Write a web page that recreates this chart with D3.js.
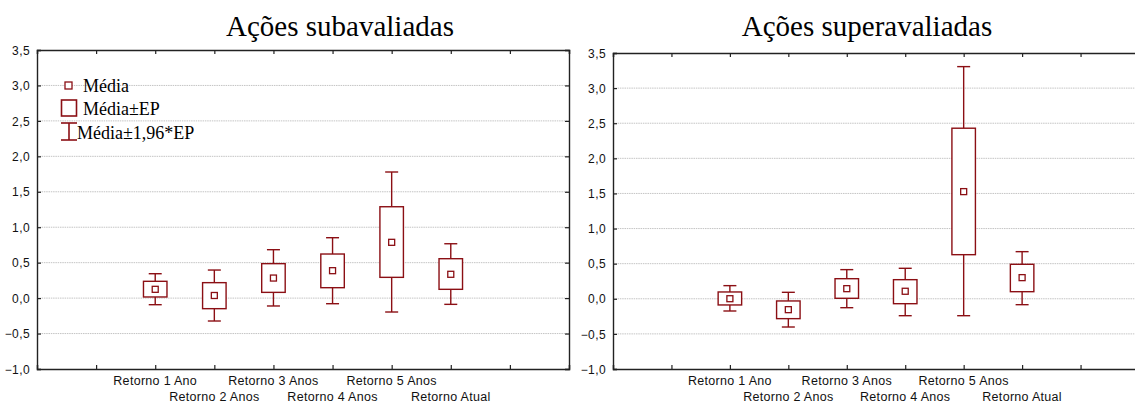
<!DOCTYPE html>
<html><head><meta charset="utf-8">
<script src="https://cdn.jsdelivr.net/npm/d3@7"></script>
<style>
html,body{margin:0;padding:0;background:#fff;overflow:hidden;}
svg{display:block;}
</style></head>
<body>
<svg id="c" width="1135" height="406"></svg>
<script>
// ---- data ----
const categories = ["Retorno 1 Ano","Retorno 2 Anos","Retorno 3 Anos","Retorno 4 Anos","Retorno 5 Anos","Retorno Atual"];
const yTicks = [-1.0,-0.5,0.0,0.5,1.0,1.5,2.0,2.5,3.0,3.5];
const titles = ["Ações subavaliadas","Ações superavaliadas"];
const legendLabels = ["Média","Média±EP","Média±1,96*EP"];

// Ações subavaliadas
const subMean    = [0.124, 0.037, 0.283, 0.387, 0.787, 0.336];
const subSeLo    = [0.016,-0.149, 0.081, 0.147, 0.293, 0.124];
const subSeHi    = [0.237, 0.218, 0.486, 0.622, 1.289, 0.556];
const subCiLo    = [-0.093,-0.323,-0.111,-0.079,-0.196,-0.088];
const subCiHi    = [0.344, 0.396, 0.683, 0.852, 1.779, 0.767];

// Ações superavaliadas
const supMean    = [0.001,-0.155, 0.144, 0.107, 1.526, 0.301];
const supSeLo    = [-0.088,-0.283, 0.007,-0.070, 0.628, 0.101];
const supSeHi    = [0.097,-0.031, 0.286, 0.272, 2.429, 0.491];
const supCiLo    = [-0.174,-0.402,-0.127,-0.241,-0.241,-0.084];
const supCiHi    = [0.187, 0.092, 0.415, 0.434, 3.306, 0.671];

const svg = d3.select("#c");
const RED = "#8b0f14";
const locale = d3.formatLocale({decimal: ",", thousands: ".", grouping: [3], currency: ["R$",""]});
const fmt = locale.format(".1f");

function panel(cfg) {
  const x = d3.scaleLinear().domain([0, 9]).range([cfg.x0, cfg.x1]);
  const y = d3.scaleLinear().domain([-1, 3.5]).range([cfg.y0, cfg.y1]);
  const g = svg.append("g");

  // gridlines
  g.append("g").selectAll("line").data(yTicks.filter(t => t > -1 && t < 3.5)).join("line")
    .attr("x1", cfg.x0).attr("x2", cfg.x1)
    .attr("y1", d => y(d)).attr("y2", d => y(d))
    .attr("stroke", "#c4c4c4").attr("stroke-width", 1).attr("stroke-dasharray", "1.5,0.8");

  // axes
  const axL = g.append("g").attr("transform", `translate(${cfg.x0},0)`)
    .call(d3.axisLeft(y).tickValues(yTicks).tickSize(-4).tickPadding(7).tickFormat(fmt));
  const axR = g.append("g").attr("transform", `translate(${cfg.x1},0)`)
    .call(d3.axisRight(y).tickValues(yTicks).tickSize(-4).tickFormat(""));
  const axB = g.append("g").attr("transform", `translate(0,${cfg.y0})`)
    .call(d3.axisBottom(x).ticks(9).tickSize(-4).tickFormat(""));
  const axT = g.append("g").attr("transform", `translate(0,${cfg.y1})`)
    .call(d3.axisTop(x).ticks(9).tickSize(-4).tickFormat(""));
  [axL, axR, axB, axT].forEach(a => {
    a.select(".domain").attr("stroke", "#222").attr("stroke-width", 1.4);
    a.selectAll(".tick line").attr("stroke", "#222").attr("stroke-width", 1.2);
    a.selectAll("text").attr("font-family", "Liberation Sans, Arial, sans-serif")
      .attr("font-size", 12).attr("letter-spacing", "0.4px").attr("fill", "#111");
  });
  axL.selectAll(".tick text").attr("dy", "0.35em");

  // x category labels (staggered)
  g.append("g").selectAll("text").data(categories).join("text")
    .attr("x", (d, i) => x(i + 2))
    .attr("y", (d, i) => cfg.y0 + (i % 2 === 0 ? 16 : 32))
    .attr("text-anchor", "middle")
    .attr("font-family", "Liberation Sans, Arial, sans-serif")
    .attr("font-size", 12.5).attr("letter-spacing", "0.3px").attr("fill", "#111")
    .text(d => d);

  // boxes
  const boxW = 23.5, capW = 13, mk = 6;
  const items = g.append("g").selectAll("g").data(cfg.mean.map((m, i) => i)).join("g");
  items.append("line")
    .attr("x1", i => x(i + 2)).attr("x2", i => x(i + 2))
    .attr("y1", i => y(cfg.ciHi[i])).attr("y2", i => y(cfg.seHi[i]))
    .attr("stroke", RED).attr("stroke-width", 1.4);
  items.append("line")
    .attr("x1", i => x(i + 2)).attr("x2", i => x(i + 2))
    .attr("y1", i => y(cfg.seLo[i])).attr("y2", i => y(cfg.ciLo[i]))
    .attr("stroke", RED).attr("stroke-width", 1.4);
  items.append("line")
    .attr("x1", i => x(i + 2) - capW / 2).attr("x2", i => x(i + 2) + capW / 2)
    .attr("y1", i => y(cfg.ciHi[i])).attr("y2", i => y(cfg.ciHi[i]))
    .attr("stroke", RED).attr("stroke-width", 1.4);
  items.append("line")
    .attr("x1", i => x(i + 2) - capW / 2).attr("x2", i => x(i + 2) + capW / 2)
    .attr("y1", i => y(cfg.ciLo[i])).attr("y2", i => y(cfg.ciLo[i]))
    .attr("stroke", RED).attr("stroke-width", 1.4);
  items.append("rect")
    .attr("x", i => x(i + 2) - boxW / 2).attr("width", boxW)
    .attr("y", i => y(cfg.seHi[i])).attr("height", i => y(cfg.seLo[i]) - y(cfg.seHi[i]))
    .attr("fill", "#fff").attr("stroke", RED).attr("stroke-width", 1.4);
  items.append("rect")
    .attr("x", i => x(i + 2) - mk / 2).attr("width", mk)
    .attr("y", i => y(cfg.mean[i]) - mk / 2).attr("height", mk)
    .attr("fill", "#fff").attr("stroke", RED).attr("stroke-width", 1.3);

  // title
  svg.append("text").attr("x", cfg.tx).attr("y", 36)
    .attr("text-anchor", "middle")
    .attr("font-family", "Liberation Serif, Times New Roman, serif")
    .attr("font-size", 29).attr("fill", "#000")
    .text(cfg.title);
  return {x, y, g};
}

panel({x0: 37, x1: 569, y0: 369, y1: 50, tx: 340, title: titles[0],
  mean: subMean, seLo: subSeLo, seHi: subSeHi, ciLo: subCiLo, ciHi: subCiHi});
panel({x0: 613, x1: 1139, y0: 369, y1: 53, tx: 867, title: titles[1],
  mean: supMean, seLo: supSeLo, seHi: supSeHi, ciLo: supCiLo, ciHi: supCiHi});

// legend (left panel)
const lg = svg.append("g");
lg.append("rect").attr("x", 65).attr("y", 82).attr("width", 7).attr("height", 7)
  .attr("fill", "#fff").attr("stroke", RED).attr("stroke-width", 1.3);
lg.append("rect").attr("x", 61.5).attr("y", 100).attr("width", 15).attr("height", 16)
  .attr("fill", "#fff").attr("stroke", RED).attr("stroke-width", 1.6);
lg.append("line").attr("x1", 61).attr("x2", 77).attr("y1", 123).attr("y2", 123).attr("stroke", RED).attr("stroke-width", 1.6);
lg.append("line").attr("x1", 61).attr("x2", 77).attr("y1", 140).attr("y2", 140).attr("stroke", RED).attr("stroke-width", 1.6);
lg.append("line").attr("x1", 69).attr("x2", 69).attr("y1", 123).attr("y2", 140).attr("stroke", RED).attr("stroke-width", 1.6);
const lx = [83, 83, 77], ly = [92, 115, 139];
lg.selectAll("text").data(legendLabels).join("text")
  .attr("x", (d, i) => lx[i]).attr("y", (d, i) => ly[i])
  .attr("font-family", "Liberation Serif, Times New Roman, serif")
  .attr("font-size", 18).attr("fill", "#000")
  .text(d => d);
</script>
</body></html>
